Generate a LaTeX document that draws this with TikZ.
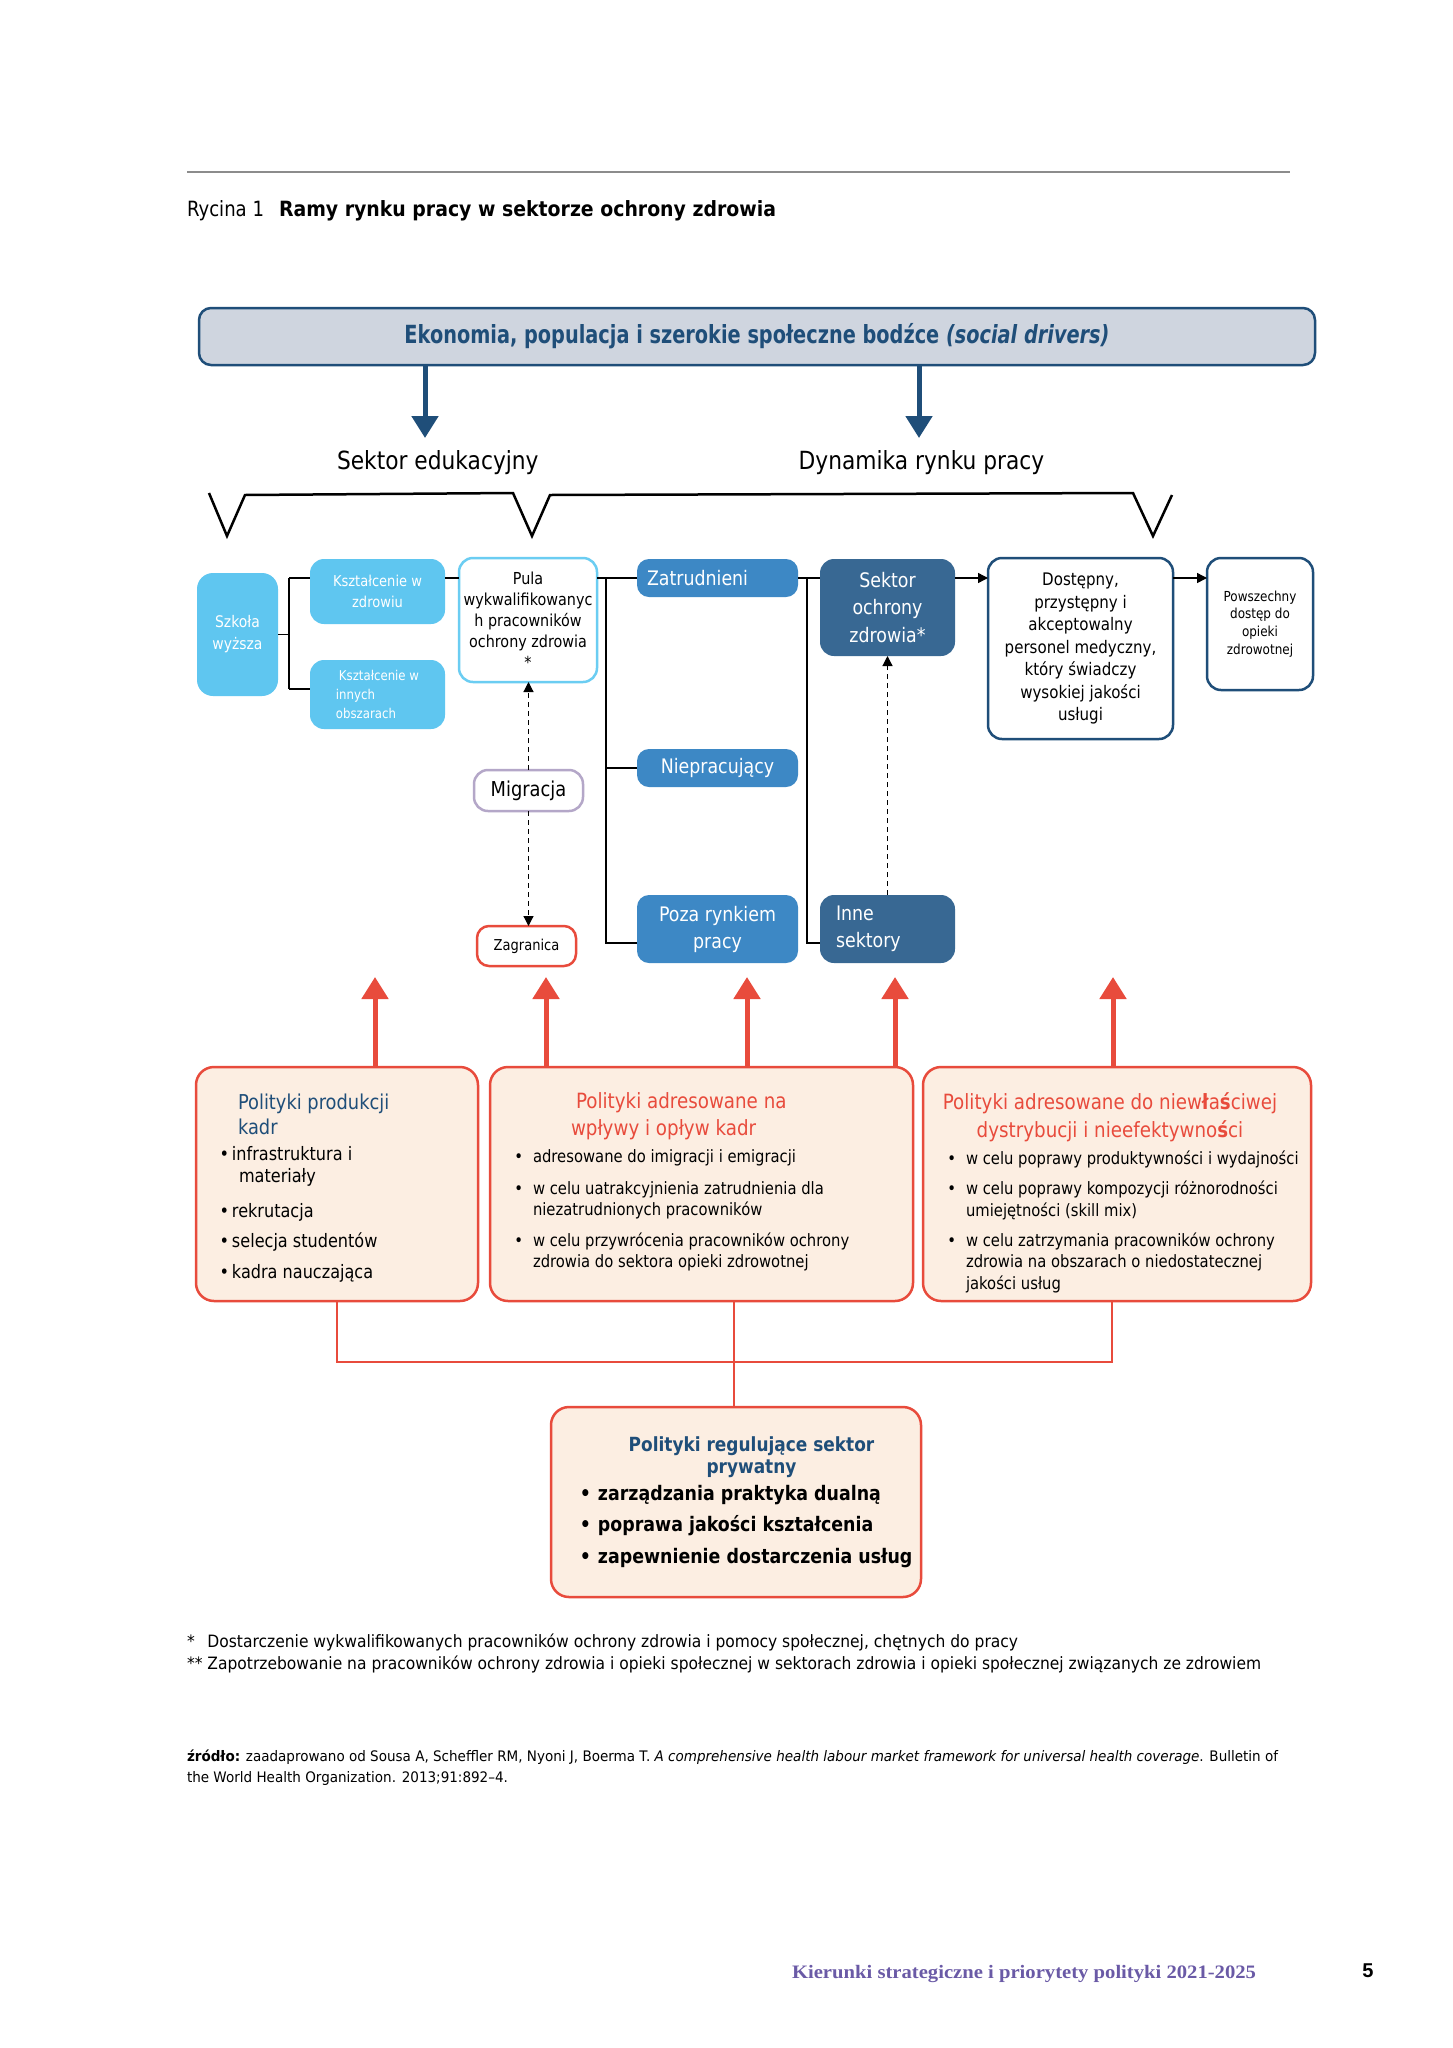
\documentclass[tikz,border=0pt]{standalone}
\usepackage{fontspec}
\usepackage{graphicx}
\setmainfont{DejaVu Sans}[FakeStretch=0.87]
\newfontfamily\serifb{Liberation Serif}
\newfontfamily\arialf{Liberation Sans}
\usetikzlibrary{arrows.meta}

\definecolor{navy}{HTML}{1F4E79}
\definecolor{topfill}{HTML}{CFD5DF}
\definecolor{lblue}{HTML}{5FC6F0}
\definecolor{pulab}{HTML}{6BCDF2}
\definecolor{mblue}{HTML}{3D88C5}
\definecolor{dblue}{HTML}{386893}
\definecolor{migb}{HTML}{B4A7C8}
\definecolor{pred}{HTML}{E84B3C}
\definecolor{peach}{HTML}{FCEEE2}
\definecolor{footpurple}{HTML}{6A5AA6}
\definecolor{rulegrey}{HTML}{8C8C8C}

% set a line to a given width, keeping its height
\newcommand\fitw[2]{\resizebox{#1}{\height}{#2}}
\newcommand\fs[2]{\fontsize{#1}{#2}\selectfont}

\tikzset{
  every node/.style={inner sep=0pt, outer sep=0pt},
  sz/.style 2 args={minimum width=#1pt, minimum height=#2pt},
  lbbox/.style={fill=lblue, rounded corners=14pt, text=white, align=center},
  mbbox/.style={fill=mblue, rounded corners=12pt, text=white, align=center},
  dbbox/.style={fill=dblue, rounded corners=14pt, text=white, align=center},
  wbox/.style={draw, fill=white, rounded corners=14pt, line width=2.5pt, align=center},
  polbox/.style={draw=pred, fill=peach, line width=2.5pt, rounded corners=18pt},
  conn/.style={line width=1.4pt, draw=black},
  arr/.style={conn, -{Triangle[length=10pt,width=10pt]}},
  dashconn/.style={line width=1.2pt, draw=black, dash pattern=on 5pt off 4pt, -{Triangle[length=10pt,width=10pt]}},
  bigarrow/.style={line width=5pt, draw=navy, -{Triangle[length=22pt,width=26pt]}},
  redarrow/.style={line width=5pt, draw=pred, -{Triangle[length=22pt,width=26pt]}},
  redline/.style={line width=2pt, draw=pred},
}

\begin{document}
\begin{tikzpicture}[x=1pt, y=-1pt]
\useasboundingbox[fill=white] (0,0) rectangle (1453,2048);

% header rule and caption
\coordinate (rl) at (187,172);
\coordinate (rr) at (1290,172);
\draw[rulegrey, line width=1.3pt] (rl) -- (rr);
\node[anchor=base west, font=\fs{21}{25}] (cap) at (187,216)
  {\fitw{77pt}{Rycina 1}\hspace{15pt}\fitw{497pt}{\bfseries Ramy rynku pracy w sektorze ochrony zdrowia}};

% top banner
\node[draw=navy, fill=topfill, line width=2.5pt, rounded corners=12pt, sz={1116}{57},
      font=\bfseries\fs{25}{30}, text=navy] (top) at (757,336.5)
  {\fitw{705pt}{Ekonomia, populacja i szerokie społeczne bodźce \textit{(social drivers)}}};

\coordinate (u1) at (425,438);
\coordinate (u2) at (919,438);
\draw[bigarrow] (top.south -| u1) -- (u1);
\draw[bigarrow] (top.south -| u2) -- (u2);

\node[font=\fs{25}{30}] (lab1) at (437.8,462.6) {Sektor edukacyjny};
\node[font=\fs{25}{30}] (lab2) at (921.5,462.6) {Dynamika rynku pracy};

% bracket line with three notches
\draw[line width=2.5pt, line join=miter] (209,493) -- (227,536) -- (245,495) -- (513,493)
  -- (532,536) -- (550,495) -- (1133,493) -- (1153,536) -- (1172,495);

% first row of boxes
\node[lbbox, sz={81}{123}, rounded corners=16pt, font=\fs{16}{22}] (szk) at (237.5,634.5) {Szkoła\\wyższa};
\node[lbbox, sz={135}{65}, font=\fs{15}{21}] (ksz1) at (377.5,591.5) {Kształcenie w\\zdrowiu};
\node[lbbox, sz={135}{69}, align=left, font=\fs{13.5}{19}] (ksz2) at (377.5,694.5) {\hspace*{3pt}Kształcenie w\\innych\\obszarach};
\node[wbox, draw=pulab, sz={138}{124}, font=\fs{16.5}{21}] (pula) at (528,620)
  {Pula\\wykwalifikowanyc\\h pracowników\\ochrony zdrowia\\*};
\node[mbbox, sz={161}{38}, inner xsep=10pt, text width=141pt, align=left, font=\fs{20}{24}] (zat) at (717.5,578) {Zatrudnieni};
\node[mbbox, sz={161}{38}, font=\fs{20}{24}] (nie) at (717.5,768) {Niepracujący};
\node[mbbox, sz={161}{68}, font=\fs{20}{27}] (poza) at (717.5,929) {Poza rynkiem\\pracy};
\node[dbbox, sz={135}{97}, font=\fs{20}{27.5}] (sek) at (887.5,607.5) {Sektor\\ochrony\\zdrowia*};
\node[dbbox, sz={135}{68}, inner xsep=16pt, text width=103pt, align=left, font=\fs{20}{27}] (inne) at (887.5,929) {Inne\\sektory};
\node[wbox, draw=navy, sz={185}{181}, font=\fs{17.3}{22.5}] (dos) at (1080.5,648.5)
  {Dostępny,\\przystępny i\\akceptowalny\\personel medyczny,\\który świadczy\\wysokiej jakości\\usługi};
\node[wbox, draw=navy, sz={106}{132}, font=\fs{13.8}{17.7}] (pow) at (1260,624)
  {Powszechny\\dostęp do\\opieki\\zdrowotnej};
\node[wbox, draw=migb, sz={109}{41}, font=\fs{20.5}{24}] (mig) at (528.5,790.5) {Migracja};
\node[wbox, draw=pred, sz={99}{40}, rounded corners=12pt, font=\fs{15}{19}] (zag) at (526.5,946) {Zagranica};

% connectors of the first row
\coordinate (ja) at (289,578);
\coordinate (jb) at (289,689);
\draw[conn] (szk.east) -- (szk.east -| ja);
\draw[conn] (ja) -- (jb);
\draw[conn] (ja) -- (ja -| ksz1.west);
\draw[conn] (jb) -- (jb -| ksz2.west);
\draw[conn] (ksz1.east |- ja) -- (pula.west |- ja);
\coordinate (jc) at (606,578);
\coordinate (jd) at (606,943);
\draw[conn] (pula.east |- ja) -- (zat.west |- ja);
\draw[conn] (jc) -- (jd) -- (jd -| poza.west);
\draw[conn] (jc |- nie.west) -- (nie.west);
\coordinate (je) at (807,578);
\coordinate (jf) at (807,943);
\draw[conn] (zat.east |- je) -- (sek.west |- je);
\draw[conn] (je) -- (jf) -- (jf -| inne.west);
\draw[arr] (sek.east |- je) -- (dos.west |- je);
\draw[arr] (dos.east |- je) -- (pow.west |- je);
\draw[dashconn] (mig.north) -- (mig.north |- pula.south);
\draw[dashconn] (mig.south) -- (mig.south |- zag.north);
\draw[dashconn] (inne.north) -- (inne.north |- sek.south);

% policy boxes
\node[polbox, sz={282}{234}] (pb1) at (337,1184) {};
\node[polbox, sz={423}{234}] (pb2) at (701.5,1184) {};
\node[polbox, sz={388}{234}] (pb3) at (1117,1184) {};
\node[polbox, sz={370}{190}] (pb4) at (736,1502) {};

\coordinate (t1) at (375,977);
\coordinate (t2) at (546,977);
\coordinate (t3) at (747,977);
\coordinate (t4) at (895,977);
\coordinate (t5) at (1113,977);
\draw[redarrow] (pb1.north -| t1) -- (t1);
\draw[redarrow] (pb2.north -| t2) -- (t2);
\draw[redarrow] (pb2.north -| t3) -- (t3);
\draw[redarrow] (pb2.north -| t4) -- (t4);
\draw[redarrow] (pb3.north -| t5) -- (t5);

\coordinate (b1) at (337,1362);
\coordinate (b2) at (734,1362);
\coordinate (b3) at (1112,1362);
\draw[redline] (pb1.south -| b1) -- (b1) -- (b3) -- (pb3.south -| b3);
\draw[redline] (pb2.south -| b2) -- (pb4.north -| b2);

% texts of the policy boxes (multi-line nodes sit on the baseline of their last line)
\node[anchor=base west, align=left, text=navy, font=\fs{20.5}{24.5}] (pt1) at (238,1134)
  {Polityki produkcji\\kadr};
\node[anchor=base west, align=left, font=\fs{18.5}{22}] (pl1) at (232,1278)
  {\llap{•\hspace{3pt}}infrastruktura i\\\hspace*{7pt}materiały\\[13pt]
   \llap{•\hspace{3pt}}rekrutacja\\[8pt]
   \llap{•\hspace{3pt}}selecja studentów\\[9pt]
   \llap{•\hspace{3pt}}kadra nauczająca};

\node[anchor=base west, align=left, text=pred, font=\fs{21}{27}] (pt2) at (576,1135)
  {Polityki adresowane na\\\hspace*{-5pt}wpływy i opływ kadr};
\node[anchor=base west, align=left, font=\fs{17}{21}] (pl2) at (533,1267)
  {\llap{•\hspace{10pt}}adresowane do imigracji i emigracji\\[11pt]
   \llap{•\hspace{10pt}}w celu uatrakcyjnienia zatrudnienia dla\\niezatrudnionych pracowników\\[10pt]
   \llap{•\hspace{10pt}}w celu przywrócenia pracowników ochrony\\zdrowia do sektora opieki zdrowotnej};

\node[anchor=base, align=center, text=pred, font=\fs{21}{28}] (pt3) at (1110,1137)
  {Polityki adresowane do niew{\bfseries ł}a{\bfseries ś}ciwej\\dystrybucji i nieefektywno{\bfseries ś}ci};
\node[anchor=base west, align=left, font=\fs{17}{21.5}] (pl3) at (966,1289)
  {\llap{•\hspace{10pt}}w celu poprawy produktywności i wydajności\\[8.5pt]
   \llap{•\hspace{10pt}}w celu poprawy kompozycji różnorodności\\umiejętności (skill mix)\\[8.5pt]
   \llap{•\hspace{10pt}}w celu zatrzymania pracowników ochrony\\zdrowia na obszarach o niedostatecznej\\jakości usług};

\node[anchor=base, align=center, text=navy, font=\bfseries\fs{19.5}{22}] (pt4) at (751.5,1473)
  {Polityki regulujące sektor\\prywatny};
\node[anchor=base west, align=left, font=\bfseries\fs{20}{31.5}] (pl4) at (598,1563)
  {\llap{•\hspace{7pt}}zarządzania praktyka dualną\\
   \llap{•\hspace{7pt}}poprawa jakości kształcenia\\
   \llap{•\hspace{7pt}}zapewnienie dostarczenia usług};

% notes and source
\node[anchor=base west, font=\fs{17}{21}] (fn1) at (187,1647)
  {\fitw{831pt}{*\hspace{12pt}Dostarczenie wykwalifikowanych pracowników ochrony zdrowia i pomocy społecznej, chętnych do pracy}};
\node[anchor=base west, font=\fs{17}{21}] (fn2) at (187,1669)
  {\fitw{1074pt}{** Zapotrzebowanie na pracowników ochrony zdrowia i opieki społecznej w sektorach zdrowia i opieki społecznej związanych ze zdrowiem}};
\node[anchor=base west, font=\fs{14.5}{18}] (src1) at (187,1761)
  {\fitw{1091pt}{\textbf{źródło:} zaadaprowano od Sousa A, Scheffler RM, Nyoni J, Boerma T. \textit{A comprehensive health labour market framework for universal health coverage}. Bulletin of}};
\node[anchor=base west, font=\fs{14.5}{18}] (src2) at (187,1782)
  {\fitw{321pt}{the World Health Organization. 2013;91:892–4.}};

% running footer
\node[anchor=base west, text=footpurple, font=\serifb\bfseries\fs{19}{23}] (foot) at (792,1978)
  {\fitw{464pt}{Kierunki strategiczne i priorytety polityki 2021-2025}};
\node[anchor=base, font=\arialf\bfseries\fs{20}{24}] (pg) at (1368,1977) {5};
\end{tikzpicture}
\end{document}
